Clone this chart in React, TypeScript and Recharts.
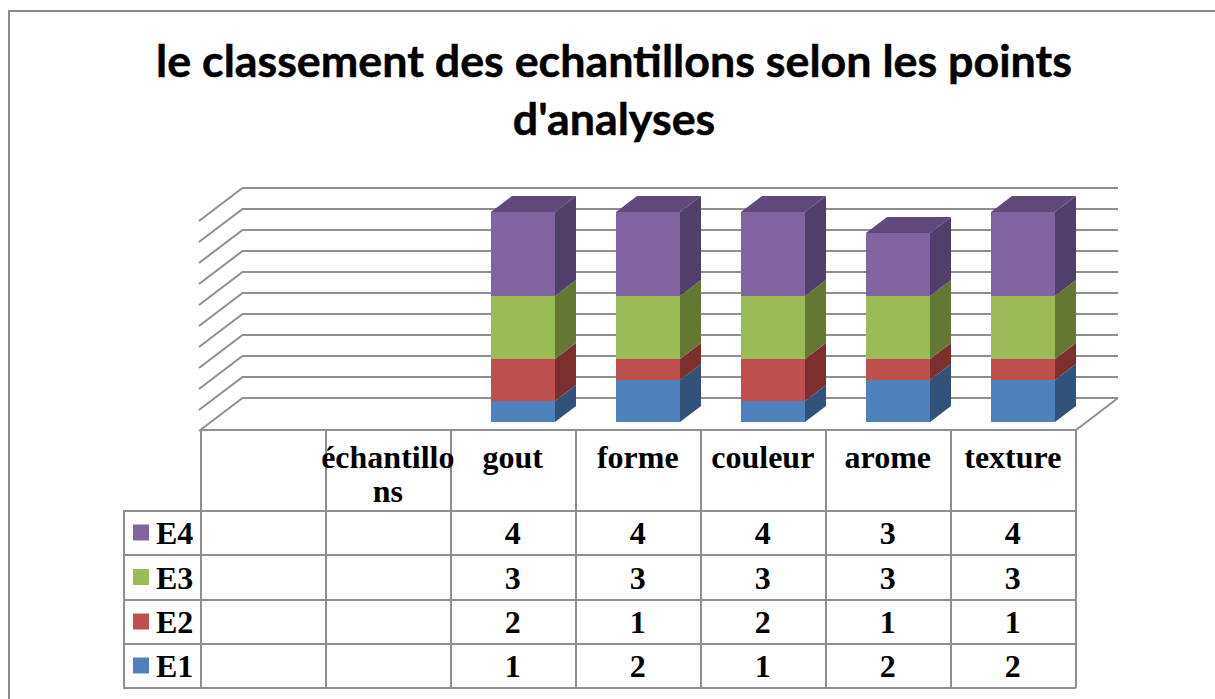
import React from "react";
import { BarChart, Bar, XAxis, YAxis, CartesianGrid } from "recharts";

const titleLines = ["le classement des echantillons selon les points", "d'analyses"];
const categories = ["", "échantillons", "gout", "forme", "couleur", "arome", "texture"];
const e1 = [null, null, 1, 2, 1, 2, 2];
const e2 = [null, null, 2, 1, 2, 1, 1];
const e3 = [null, null, 3, 3, 3, 3, 3];
const e4 = [null, null, 4, 4, 4, 3, 4];
const gridValues = [0, 1, 2, 3, 4, 5, 6, 7, 8, 9, 10];

const seriesList = [
  { key: "E1", values: e1, front: "#4F81BD", side: "#31537B", top: "#3F6797" },
  { key: "E2", values: e2, front: "#C0504D", side: "#7C302E", top: "#99403D" },
  { key: "E3", values: e3, front: "#9BBB59", side: "#647833", top: "#7C9647" },
  { key: "E4", values: e4, front: "#8064A2", side: "#503F6A", top: "#604A7B" },
];
const tableRows = [...seriesList].reverse();
const data = categories.map((name, i) => ({ name, E1: e1[i], E2: e2[i], E3: e3[i], E4: e4[i] }));

const GRID = "#8f8f8f";
const DX = 21;
const DY = 16;
const COLS = [201, 326, 451, 576, 701, 826, 951, 1076];
const ROWS = [430, 511, 555, 600, 644, 688];
const SERIF = "'Liberation Serif', serif";

const makeShape = (s: (typeof seriesList)[number], isTop: boolean) => (p: any) => {
  const { x, y, width, height } = p;
  if (!height) return <g />;
  return (
    <g>
      <rect x={x} y={y} width={width} height={height} fill={s.front} />
      <polygon
        points={`${x + width},${y} ${x + width + DX},${y - DY} ${x + width + DX},${y + height - DY} ${x + width},${y + height}`}
        fill={s.side}
      />
      {isTop && (
        <polygon
          points={`${x},${y} ${x + DX},${y - DY} ${x + width + DX},${y - DY} ${x + width},${y}`}
          fill={s.top}
        />
      )}
    </g>
  );
};

const gridShape = (p: any) => {
  const y = p.y1 - 24;
  return (
    <path key={`g${y}`} d={`M199 ${y + 33}L242.5 ${y}H1118`} fill="none" stroke={GRID} strokeWidth={2} />
  );
};

function TableOverlay() {
  const cellText = (t: any, i: number, y: number, key: string) => (
    <text
      key={key}
      x={(COLS[i] + COLS[i + 1]) / 2 - 0.7}
      y={y}
      textAnchor="middle"
      fontFamily={SERIF}
      fontWeight="bold"
      fontSize={32}
      fill="#000"
    >
      {t}
    </text>
  );
  return (
    <svg width={1215} height={699} style={{ position: "absolute", left: 0, top: 0, pointerEvents: "none" }}>
      <path d={`M200 430H1076L1118 398`} fill="none" stroke={GRID} strokeWidth={2} />
      {COLS.map((x) => (
        <line key={x} x1={x} x2={x} y1={430} y2={688} stroke={GRID} strokeWidth={2} />
      ))}
      {ROWS.slice(1).map((y) => (
        <line key={y} x1={123} x2={1076} y1={y} y2={y} stroke={GRID} strokeWidth={2} />
      ))}
      <line x1={124} x2={124} y1={511} y2={688} stroke={GRID} strokeWidth={2} />
      {categories.map((c, i) => {
        if (c === "échantillons") {
          return (
            <g key={c}>
              {cellText("échantillo", i, 468, "a")}
              {cellText("ns", i, 502, "b")}
            </g>
          );
        }
        return cellText(c, i, 468, c || "blank");
      })}
      {tableRows.map((s, r) => {
        const mid = (ROWS[r + 1] + ROWS[r + 2]) / 2;
        return (
          <g key={s.key}>
            <rect x={133} y={mid - 8.5} width={16} height={16} fill={s.front} />
            <text x={156} y={mid + 11} fontFamily={SERIF} fontWeight="bold" fontSize={32} fill="#000">
              {s.key}
            </text>
            {s.values.map((v, i) => (v === null ? null : cellText(v, i, mid + 11, `${s.key}${i}`)))}
          </g>
        );
      })}
    </svg>
  );
}

export default function App() {
  return (
    <div style={{ position: "absolute", left: 0, top: 0, width: 1215, height: 699, background: "#fff", overflow: "hidden" }}>
      <div
        style={{
          position: "absolute",
          left: 8,
          top: 10,
          width: 1300,
          height: 800,
          border: "2px solid #8a8a8a",
        }}
      />
      <svg width={1215} height={160} style={{ position: "absolute", left: 0, top: 0 }}>
        {titleLines.map((t, i) => (
          <text
            key={t}
            x={614}
            y={77 + i * 58}
            textAnchor="middle"
            fontFamily="Lato, sans-serif"
            fontWeight="bold"
            fontSize={44.8}
            fill="#000"
            stroke="#000"
            strokeWidth={0.5}
          >
            {t}
          </text>
        ))}
      </svg>
      <div style={{ position: "absolute", left: 0, top: 0 }}>
        <BarChart
          width={1215}
          height={699}
          data={data}
          barSize={64}
          margin={{ left: 210, right: 130, top: 212, bottom: 277 }}
        >
          <CartesianGrid vertical={false} horizontal={gridShape} syncWithTicks horizontalValues={gridValues} />
          <XAxis dataKey="name" hide />
          <YAxis hide domain={[0, 10]} ticks={gridValues} tickCount={11} interval={0} />
          {seriesList.map((s, i) => (
            <Bar
              key={s.key}
              dataKey={s.key}
              stackId="a"
              isAnimationActive={false}
              shape={makeShape(s, i === seriesList.length - 1)}
            />
          ))}
        </BarChart>
      </div>
      <TableOverlay />
    </div>
  );
}
